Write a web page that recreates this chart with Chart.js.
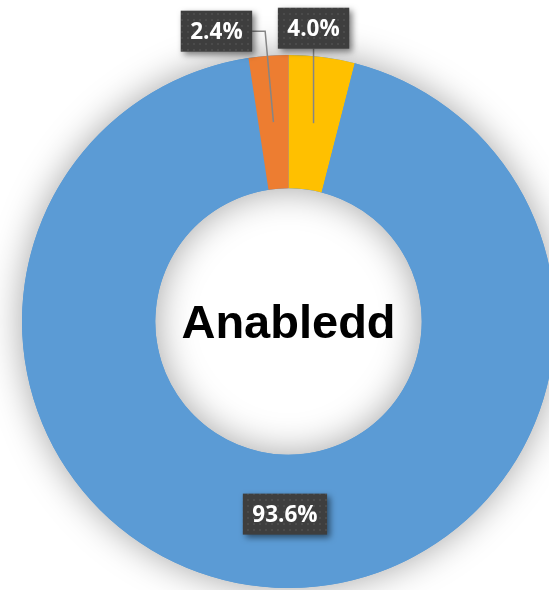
<!DOCTYPE html>
<html>
<head>
<meta charset="utf-8">
<script src="https://cdn.jsdelivr.net/npm/chart.js@4/dist/chart.umd.min.js"></script>
<style>
  html, body { margin: 0; padding: 0; background: #fff; overflow: hidden; }
</style>
</head>
<body>
<canvas id="myChart" width="560" height="590"></canvas>
<script>
// data
const categories = ["Ie", "Na", "Dim ateb"];
const percentages = [4.0, 93.6, 2.4];
const centerTitle = "Anabledd";

// label placement, relative to the middle of each slice
const labelPlace = [
  { dx: 0, dy: -95 },
  { dx: 6.5, dy: -7, inside: true },
  { dx: -57, dy: -91 },
];

function makePattern(ctx) {
  const c = document.createElement("canvas");
  c.width = 6;
  c.height = 6;
  const g = c.getContext("2d");
  g.fillStyle = "#3e3e3e";
  g.fillRect(0, 0, 6, 6);
  g.fillStyle = "#4b4b4b";
  g.fillRect(1, 1, 2, 2);
  return ctx.createPattern(c, "repeat");
}

// soft shadow round the ring
const ringShadow = {
  id: "ringShadow",
  beforeDatasetsDraw(chart) {
    const arc = chart.getDatasetMeta(0).data[0];
    if (!arc) return;
    const ctx = chart.ctx;
    ctx.save();
    ctx.shadowColor = "rgba(0,0,0,0.36)";
    ctx.shadowBlur = 36;
    ctx.beginPath();
    ctx.arc(arc.x, arc.y, arc.outerRadius, 0, Math.PI * 2);
    ctx.arc(arc.x, arc.y, arc.innerRadius, 0, Math.PI * 2, true);
    ctx.fillStyle = "#5B9BD5";
    ctx.fill();
    ctx.restore();
  },
};

// dark boxed value labels with leader lines
const boxLabels = {
  id: "boxLabels",
  afterDatasetsDraw(chart) {
    const ctx = chart.ctx;
    const meta = chart.getDatasetMeta(0);
    const pattern = makePattern(ctx);
    ctx.save();
    ctx.font = 'bold 22.5px "Open Sans"';
    meta.data.forEach((arc, i) => {
      const mid = (arc.startAngle + arc.endAngle) / 2;
      const r = (arc.innerRadius + arc.outerRadius) / 2;
      const ax = arc.x + Math.cos(mid) * r;
      const ay = arc.y + Math.sin(mid) * r;
      const place = labelPlace[i];
      const text = percentages[i].toFixed(1) + "%";
      const w = ctx.measureText(text).width + 19;
      const h = 41;
      const bx = ax + place.dx;
      const by = ay + place.dy;
      const left = bx - w / 2;
      const top = by - h / 2;

      if (!place.inside) {
        ctx.strokeStyle = "#858585";
        ctx.lineWidth = 1.5;
        ctx.beginPath();
        if (ax > left && ax < left + w) {
          ctx.moveTo(ax, top + h);
          ctx.lineTo(ax, ay);
        } else {
          const sx = ax > bx ? left + w : left;
          const ex = sx + (ax > bx ? 13 : -13);
          ctx.moveTo(sx, by);
          ctx.lineTo(ex, by);
          ctx.lineTo(ax, ay);
        }
        ctx.stroke();
      }

      ctx.save();
      ctx.shadowColor = "rgba(0,0,0,0.5)";
      ctx.shadowBlur = 6;
      ctx.shadowOffsetX = 3;
      ctx.shadowOffsetY = 3;
      ctx.fillStyle = pattern;
      ctx.fillRect(left, top, w, h);
      ctx.restore();

      ctx.fillStyle = "#ffffff";
      ctx.textAlign = "center";
      ctx.textBaseline = "middle";
      ctx.fillText(text, bx, by + 1);
    });
    ctx.restore();
  },
};

// title in the hole
const centerText = {
  id: "centerText",
  afterDraw(chart) {
    const arc = chart.getDatasetMeta(0).data[0];
    if (!arc) return;
    const ctx = chart.ctx;
    ctx.save();
    ctx.font = 'bold 47px "Liberation Sans", Arial, sans-serif';
    ctx.fillStyle = "#000000";
    ctx.textAlign = "center";
    ctx.textBaseline = "alphabetic";
    ctx.fillText(centerTitle, arc.x, arc.y + 16.5);
    ctx.restore();
  },
};

const data = {
  labels: categories,
  datasets: [
    {
      data: percentages,
      backgroundColor: ["#FFC000", "#5B9BD5", "#ED7D31"],
      borderWidth: 0,
    },
  ],
};

const config = {
  type: "doughnut",
  data,
  options: {
    responsive: false,
    animation: false,
    cutout: "50%",
    layout: { padding: { left: 22, right: 5, top: 55, bottom: 2 } },
    plugins: {
      legend: { display: false },
      tooltip: { enabled: false },
    },
  },
  plugins: [ringShadow, boxLabels, centerText],
};

const myChart = new Chart(document.getElementById("myChart"), config);
</script>
</body>
</html>
